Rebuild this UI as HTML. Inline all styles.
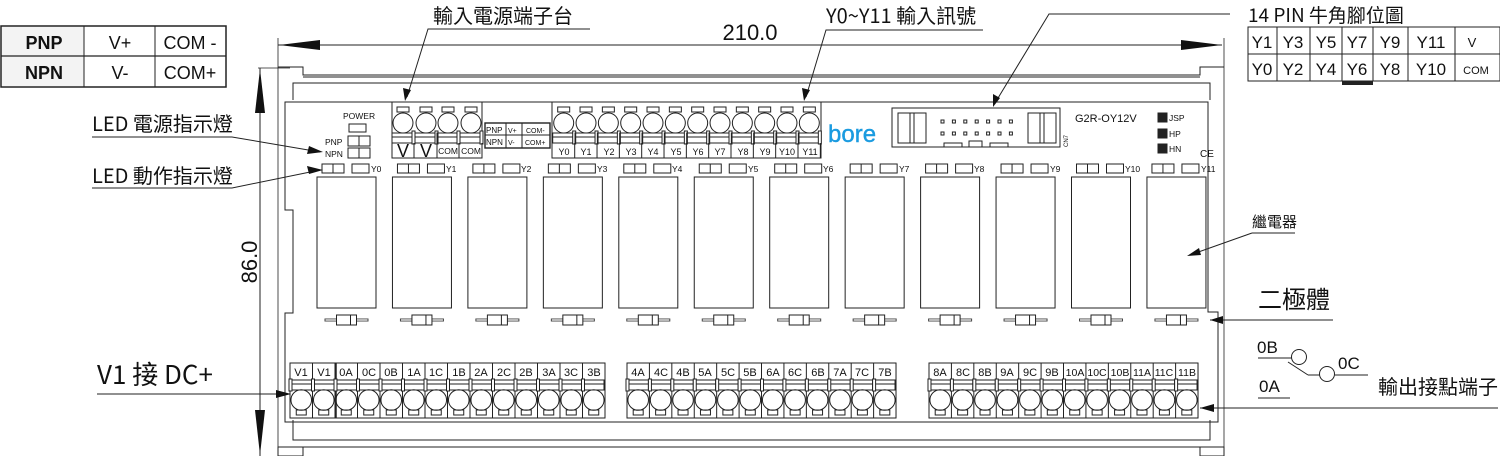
<!DOCTYPE html>
<html><head><meta charset="utf-8"><style>
html,body{margin:0;padding:0;background:#fff;}
svg{display:block;}
text{font-family:"Liberation Sans","Noto Sans CJK TC",sans-serif;fill:#111;}
.cjk{font-family:"Noto Sans CJK TC","Liberation Sans",sans-serif;}
.s{font-size:8.5px;font-family:"Liberation Sans",sans-serif;}
</style></head><body>
<svg id="sv" width="1500" height="456" viewBox="0 0 1500 456" xmlns="http://www.w3.org/2000/svg" fill="none" stroke="#222" stroke-width="1">
<!-- PNP/NPN table -->
<rect x="1" y="26" width="225" height="61" fill="#fff" stroke="#222" stroke-width="1.5"/>
<rect x="2" y="27" width="82" height="59" fill="#f3f3f3" stroke="none"/>
<line x1="1" y1="56" x2="226" y2="56" stroke-width="1.2"/>
<line x1="84" y1="26" x2="84" y2="87"/><line x1="155" y1="26" x2="155" y2="87"/>
<g stroke="none">
<text x="44" y="49" font-size="18" font-weight="bold" text-anchor="middle">PNP</text>
<text x="44" y="79" font-size="18" font-weight="bold" text-anchor="middle">NPN</text>
<text x="120" y="49" font-size="18" text-anchor="middle">V+</text>
<text x="120" y="79" font-size="18" text-anchor="middle">V-</text>
<text x="190" y="49" font-size="18" text-anchor="middle">COM -</text>
<text x="190" y="79" font-size="18" text-anchor="middle">COM+</text>
</g>

<!-- dimensions -->
<line x1="278" y1="38" x2="278" y2="456" stroke-width="0.8"/>
<line x1="1224" y1="38" x2="1224" y2="456" stroke-width="0.8"/>
<line x1="278" y1="45" x2="1222" y2="45"/>
<polygon points="279,45 320,40 320,50" fill="#111" stroke="none"/>
<polygon points="1222,45 1181,40 1181,50" fill="#111" stroke="none"/>
<text x="750" y="40" font-size="22" text-anchor="middle" stroke="none">210.0</text>
<line x1="258" y1="68" x2="290" y2="68" stroke-width="0.8"/>
<line x1="260" y1="68" x2="260" y2="456"/>
<polygon points="260,69 255,113 265,113" fill="#111" stroke="none"/>
<polygon points="260,455 255,410 265,410" fill="#111" stroke="none"/>
<text transform="translate(257,262) rotate(-90)" font-size="22" text-anchor="middle" stroke="none">86.0</text>

<!-- frame -->
<polyline points="278,67 303,67 303,75 1200,75 1200,67 1224,67"/>
<line x1="303" y1="77" x2="1200" y2="77"/>
<polyline points="293,100 293,83 1210,83 1210,100"/>
<polyline points="293,420 293,440 1210,440 1210,420"/>
<line x1="303" y1="447" x2="1200" y2="447"/>
<rect x="1200" y="447" width="24" height="9"/>
<rect x="278" y="447" width="25" height="9"/>
<!-- board -->
<polyline points="285,420 285,313 293,313 293,210 285,210 285,102 1208,102 1208,312 1218,312 1218,422 285,422 285,420"/>

<!-- power LEDs -->
<g stroke="none">
<text x="343" y="119" class="s">POWER</text>
<text x="325" y="145" class="s">PNP</text>
<text x="325" y="157" class="s">NPN</text>
<text x="1075" y="122" font-size="11">G2R-OY12V</text>
<text x="1169" y="121" class="s">JSP</text>
<text x="1169" y="137" class="s">HP</text>
<text x="1169" y="152" class="s">HN</text>
<text x="1200" y="157" font-size="10">CE</text>
<text x="828" y="142" font-size="24" style="fill:#1a9be0;stroke:#1a9be0;stroke-width:0.4">bore</text>
<text transform="translate(1068,147) rotate(-90)" font-size="6">CN7</text>
</g>
<rect x="349" y="124" width="17" height="8"/>
<rect x="348" y="136" width="22" height="10"/><line x1="359" y1="136" x2="359" y2="146"/>
<rect x="348" y="148" width="22" height="10"/><line x1="359" y1="148" x2="359" y2="158"/>
<rect x="1158" y="113" width="9" height="9" fill="#222"/>
<rect x="1158" y="129" width="9" height="9" fill="#222"/>
<rect x="1158" y="144" width="9" height="9" fill="#222"/>

<!-- connector -->
<rect x="892" y="108" width="168" height="39"/>
<g id="conn"></g>

<!-- top block 1 -->
<rect x="392" y="102" width="90" height="56"/>
<rect x="485" y="123" width="65" height="25" stroke-width="1.4"/>
<line x1="485" y1="135" x2="550" y2="135"/><line x1="506" y1="123" x2="506" y2="148"/><line x1="522" y1="123" x2="522" y2="148"/>
<g stroke="none" font-size="8">
<text x="486" y="133">PNP</text><text x="486" y="145">NPN</text>
<text x="508" y="133" font-size="7">V+</text><text x="508" y="145" font-size="7">V-</text>
<text x="526" y="133" font-size="7">COM-</text><text x="525" y="145" font-size="7">COM+</text>
<text x="403" y="157" font-size="18" text-anchor="middle">V</text>
<text x="426" y="157" font-size="18" text-anchor="middle">V</text>
<text x="448" y="154" font-size="8.5" text-anchor="middle">COM</text>
<text x="471" y="154" font-size="8.5" text-anchor="middle">COM</text>
</g>
<!-- top block 2 -->
<rect x="552" y="102" width="269" height="56"/>
<g stroke="none" font-size="9" text-anchor="middle">
<text x="564" y="155">Y0</text><text x="586" y="155">Y1</text><text x="609" y="155">Y2</text><text x="631" y="155">Y3</text><text x="653" y="155">Y4</text><text x="676" y="155">Y5</text><text x="698" y="155">Y6</text><text x="720" y="155">Y7</text><text x="743" y="155">Y8</text><text x="765" y="155">Y9</text><text x="787" y="155">Y10</text><text x="810" y="155">Y11</text>
</g>
<g id="top"></g>

<!-- relay labels -->
<g stroke="none" font-size="8.5">
<text x="371" y="172">Y0</text><text x="446" y="172">Y1</text><text x="521" y="172">Y2</text><text x="597" y="172">Y3</text><text x="672" y="172">Y4</text><text x="748" y="172">Y5</text><text x="823" y="172">Y6</text><text x="899" y="172">Y7</text><text x="974" y="172">Y8</text><text x="1050" y="172">Y9</text><text x="1125" y="172">Y10</text><text x="1201" y="172">Y11</text>
</g>
<g id="rel"></g>

<!-- bottom blocks -->
<rect x="290" y="363" width="315" height="55"/>
<rect x="627" y="363" width="269" height="55"/>
<rect x="929" y="363" width="269" height="55"/>
<line x1="336" y1="363" x2="336" y2="418" stroke-width="1.5"/>
<g id="bot"></g>
<g stroke="none" font-size="11" text-anchor="middle">
<text x="301" y="376">V1</text><text x="324" y="376">V1</text><text x="346" y="376">0A</text><text x="369" y="376">0C</text><text x="391" y="376">0B</text><text x="414" y="376">1A</text><text x="436" y="376">1C</text><text x="459" y="376">1B</text><text x="481" y="376">2A</text><text x="504" y="376">2C</text><text x="526" y="376">2B</text><text x="549" y="376">3A</text><text x="571" y="376">3C</text><text x="594" y="376">3B</text>
<text x="638" y="376">4A</text><text x="661" y="376">4C</text><text x="683" y="376">4B</text><text x="705" y="376">5A</text><text x="728" y="376">5C</text><text x="750" y="376">5B</text><text x="773" y="376">6A</text><text x="795" y="376">6C</text><text x="818" y="376">6B</text><text x="840" y="376">7A</text><text x="862" y="376">7C</text><text x="885" y="376">7B</text>
<text x="940" y="376">8A</text><text x="963" y="376">8C</text><text x="985" y="376">8B</text><text x="1007" y="376">9A</text><text x="1030" y="376">9C</text><text x="1052" y="376">9B</text><text x="1075" y="376" font-size="10.5">10A</text><text x="1097" y="376" font-size="10.5">10C</text><text x="1120" y="376" font-size="10.5">10B</text><text x="1142" y="376" font-size="10.5">11A</text><text x="1164" y="376" font-size="10.5">11C</text><text x="1187" y="376" font-size="10.5">11B</text>
</g>

<!-- annotations -->
<g stroke="none">
<text x="433" y="23" font-size="20" class="cjk">輸入電源端子台</text>
<text x="826" y="23" font-size="20" class="cjk">Y0~Y11 輸入訊號</text>
<text x="1248" y="22" font-size="19" class="cjk">14 PIN 牛角腳位圖</text>
<text x="92" y="131" font-size="20" class="cjk">LED 電源指示燈</text>
<text x="92" y="183" font-size="20" class="cjk">LED 動作指示燈</text>
<text x="97" y="384" font-size="26" class="cjk">V1 接 DC+</text>
<text x="1252" y="227" font-size="15" class="cjk">繼電器</text>
<text x="1258" y="308" font-size="24" class="cjk">二極體</text>
<text x="1378" y="394" font-size="20" class="cjk">輸出接點端子</text>
<text x="1257" y="353" font-size="17">0B</text>
<text x="1338" y="369" font-size="17">0C</text>
<text x="1259" y="392" font-size="17">0A</text>
</g>
<polyline points="590,29 428,29 407,97"/><polygon points="405,101 403,88 411,90" fill="#111" stroke="none"/>
<polyline points="983,30 826,30 806,97"/><polygon points="804,101 802,88 810,90" fill="#111" stroke="none"/>
<polyline points="1230,14 1049,14 995,103"/><polygon points="993,107 993,94 1000,98" fill="#111" stroke="none"/>
<polyline points="92,137 232,137 320,152"/><polygon points="323,152 309,146 307,154" fill="#111" stroke="none"/>
<polyline points="92,188 232,188 320,170"/><polygon points="323,170 307,166 309,174" fill="#111" stroke="none"/>
<polyline points="97,394 290,394"/><polygon points="291,394 276,390 276,398" fill="#111" stroke="none"/>
<polyline points="1295,233 1252,233"/><line x1="1252" y1="233" x2="1190" y2="255"/><polygon points="1187,256 1199,248 1201,255" fill="#111" stroke="none"/>
<polyline points="1333,320 1210,320"/><polygon points="1210,320 1223,316 1223,324" fill="#111" stroke="none"/>
<line x1="1498" y1="408" x2="1200" y2="408"/><polygon points="1200,408 1214,404 1214,412" fill="#111" stroke="none"/>
<line x1="1258" y1="358" x2="1292" y2="358"/><circle cx="1299" cy="357" r="7.5"/>
<line x1="1288" y1="362" x2="1308" y2="375" /><line x1="1308" y1="375" x2="1320" y2="375"/><circle cx="1327" cy="374" r="7.5"/>
<line x1="1335" y1="375" x2="1368" y2="375"/>
<line x1="1258" y1="398" x2="1290" y2="398"/>

<!-- pin table -->
<rect x="1248" y="27" width="252" height="54"/>
<line x1="1248" y1="54" x2="1500" y2="54"/>
<g id="pinc"></g>
<rect x="1342" y="81" width="31" height="4" fill="#222" stroke="none"/>
<g stroke="none" font-size="17" text-anchor="middle">
<text x="1262" y="48">Y1</text><text x="1293" y="48">Y3</text><text x="1326" y="48">Y5</text><text x="1357" y="48">Y7</text><text x="1390" y="48">Y9</text><text x="1431" y="48">Y11</text><text x="1472" y="47" font-size="13">V</text>
<text x="1262" y="75">Y0</text><text x="1293" y="75">Y2</text><text x="1326" y="75">Y4</text><text x="1357" y="75">Y6</text><text x="1390" y="75">Y8</text><text x="1431" y="75">Y10</text><text x="1476" y="74" font-size="11">COM</text>
</g>
</svg>
<script>
var NS="http://www.w3.org/2000/svg";
function el(p,t,a){var e=document.createElementNS(NS,t);for(var k in a)e.setAttribute(k,a[k]);document.getElementById(p).appendChild(e);return e;}
[1277,1310,1342,1373,1408,1455].forEach(function(x){el("pinc","line",{x1:x,y1:27,x2:x,y2:81});});
el("conn","rect",{x:898,y:113,width:28,height:30});el("conn","rect",{x:1028,y:113,width:28,height:30});
el("conn","line",{x1:910,y1:113,x2:910,y2:143});el("conn","line",{x1:914,y1:113,x2:914,y2:143});el("conn","line",{x1:1040,y1:113,x2:1040,y2:143});el("conn","line",{x1:1044,y1:113,x2:1044,y2:143});
for(var i=0;i<7;i++){for(var r=0;r<2;r++)el("conn","rect",{x:941+i*11.4,y:120+r*12,width:3,height:3});}
el("conn","rect",{x:944,y:143,width:18,height:4});el("conn","rect",{x:969,y:141,width:13,height:6});el("conn","rect",{x:990,y:143,width:18,height:4});
function topTerm(cx){el("top","rect",{x:cx-6,y:107,width:12,height:5});el("top","circle",{cx:cx,cy:123,r:10});
 el("top","rect",{x:cx-11,y:133,width:22,height:10});el("top","line",{x1:cx-11,y1:137,x2:cx+11,y2:137});el("top","rect",{x:cx+9,y:131,width:3,height:13,fill:"#fff"});
 el("top","line",{x1:cx+11,y1:143,x2:cx+11,y2:158});}
[403,426,448,471].forEach(topTerm);
for(var i=0;i<12;i++)topTerm(563.7+i*22.33);
for(var i=0;i<12;i++){var x=317+i*75.45;
 el("rel","rect",{x:x+5,y:164,width:22,height:9});el("rel","line",{x1:x+16,y1:164,x2:x+16,y2:173});
 el("rel","rect",{x:x+35,y:164,width:17,height:9});
 el("rel","rect",{x:x,y:177,width:59,height:131});
 var c=x+29.5;el("rel","line",{x1:c-22,y1:320,x2:c+22,y2:320,"stroke-width":3,stroke:"#444"});el("rel","line",{x1:c-21,y1:320,x2:c+21,y2:320,"stroke-width":1.2,stroke:"#fff"});
 el("rel","rect",{x:c-10,y:315,width:20,height:10,fill:"#fff"});el("rel","line",{x1:c+4,y1:315,x2:c+4,y2:325});}
function bt(cx,p){el("bot","line",{x1:cx+p/2,y1:363,x2:cx+p/2,y2:418});
 el("bot","rect",{x:cx-p/2+1,y:380,width:p-2,height:10});el("bot","line",{x1:cx-p/2+1,y1:384,x2:cx+p/2-1,y2:384});
 el("bot","rect",{x:cx-p/2-1,y:379,width:3,height:12,fill:"#fff"});
 el("bot","circle",{cx:cx,cy:400,r:10.3});el("bot","rect",{x:cx-5,y:410,width:10,height:5});}
for(var i=0;i<14;i++)bt(301.25+i*22.5,22.5);
for(var i=0;i<12;i++){bt(638.2+i*22.42,22.42);bt(940.2+i*22.42,22.42);}
</script>
</body></html>
